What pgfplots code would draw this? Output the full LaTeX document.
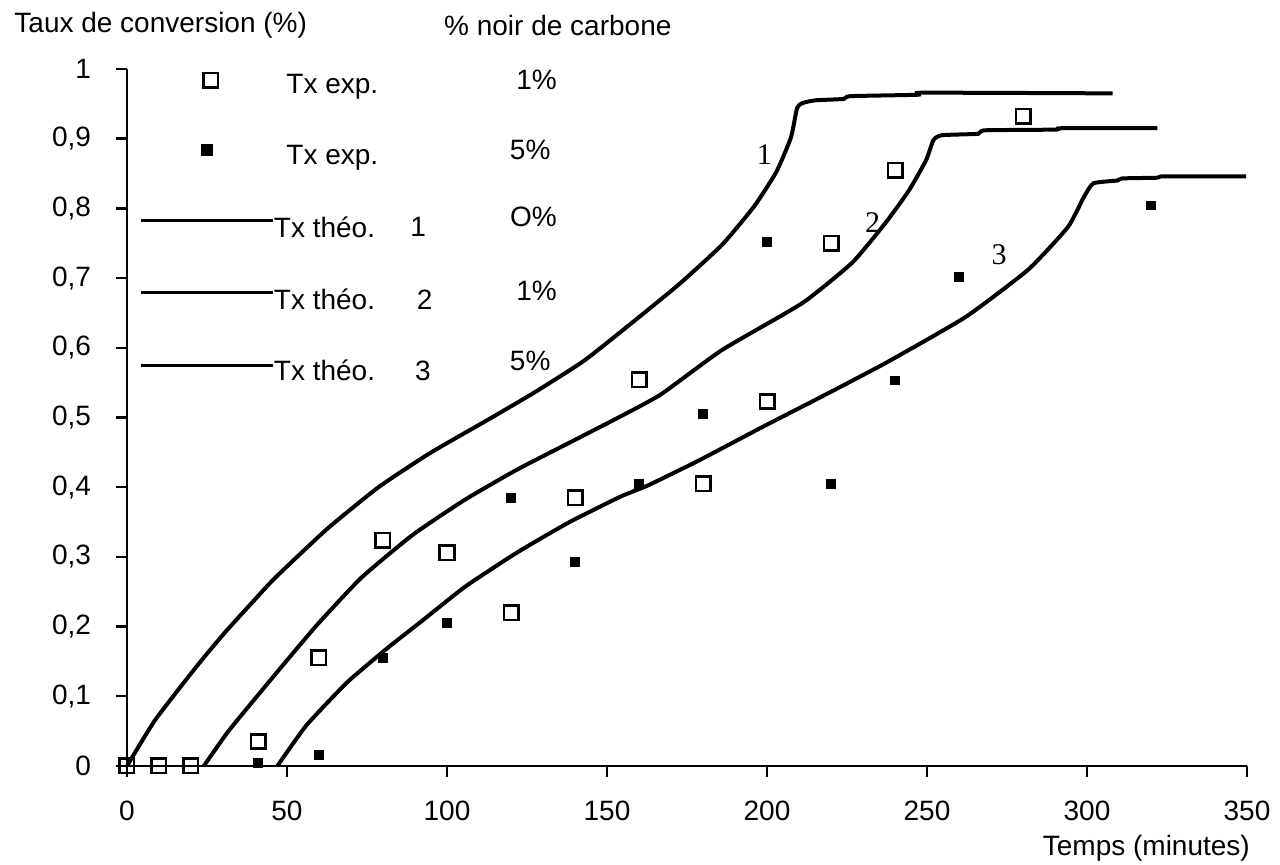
\documentclass[border=0pt]{standalone}
\usepackage{fontspec}
\setmainfont{Liberation Sans}
\newfontfamily\timesf{Liberation Serif}
\usepackage{pgfplots}
\pgfplotsset{compat=1.18}
\begin{document}
\begin{tikzpicture}[font=\fontsize{14}{16}\selectfont]
\path[use as bounding box] (-63.5pt,-49.5pt) rectangle (576.5pt,383pt);
\begin{axis}[
  scale only axis, width=560pt, height=348.5pt,
  xmin=0, xmax=350, ymin=0, ymax=1,
  axis lines*=left,
  axis line style={line width=1.4pt},
  tick align=outside,
  major tick length=5.5pt,
  tick style={line width=1.2pt, black},
  xtick={0,50,...,350},
  ytick={0,0.1,0.2,0.3,0.4,0.5,0.6,0.7,0.8,0.9,1},
  yticklabels={0,{0,1},{0,2},{0,3},{0,4},{0,5},{0,6},{0,7},{0,8},{0,9},1},
  xticklabels={0,50,100,150,200,250,300,350},
  yticklabel style={xshift=-9pt},
  xticklabel style={yshift=-8.5pt},
  clip=false,
]
% theoretical curves
\addplot[black, line width=2pt, smooth, tension=0.3] coordinates {
(0,0) (8.8,0.066) (21.6,0.142) (30.5,0.191) (39.4,0.236) (46.3,0.270) (62.5,0.340) (78.6,0.400) (94.7,0.449) (111,0.492) (127,0.535) (143,0.582) (160,0.644) (173,0.693) (186,0.748) (196,0.803) (203,0.853) (207.5,0.902) (209.4,0.944) (211,0.951) (215,0.955) (224,0.957) (226,0.961) (247,0.963) (249,0.966) (308,0.965)};
\addplot[black, line width=2pt, smooth, tension=0.3] coordinates {
(24,0) (31.7,0.050) (41.9,0.107) (49.7,0.150) (59.5,0.203) (73.2,0.270) (89.4,0.332) (105.6,0.382) (121.8,0.425) (137.9,0.463) (154,0.501) (166.8,0.533) (186,0.597) (211,0.664) (226.6,0.722) (237,0.779) (244.4,0.826) (249.7,0.869) (252,0.898) (254.7,0.905) (266,0.907) (268,0.912) (290,0.913) (292,0.915) (322,0.915)};
\addplot[black, line width=2pt, smooth, tension=0.3] coordinates {
(47,0) (56,0.058) (68.8,0.120) (81.6,0.170) (91.6,0.206) (105.6,0.257) (121.8,0.306) (137.9,0.349) (154,0.386) (163,0.403) (179,0.439) (198.4,0.486) (215,0.525) (237,0.578) (262,0.644) (281.6,0.712) (294,0.773) (299,0.816) (302,0.836) (309.5,0.840) (311,0.843) (322,0.844) (324,0.846) (349.7,0.846)};
% experimental 1%
\addplot[only marks, mark=square, mark size=3.6pt, mark options={line width=1.3pt, black}] coordinates {
(0,0) (10,0) (20,0) (41,0.035) (60,0.155) (80,0.324) (100,0.306) (120,0.22) (140,0.385) (160,0.554) (180,0.405) (200,0.523) (220,0.75) (240,0.855) (280,0.932)};
% experimental 5%
\addplot[only marks, mark=square*, mark size=2.2pt, mark options={black, line width=0.5pt}] coordinates {
(41,0.004) (60,0.016) (80,0.155) (100,0.205) (120,0.385) (140,0.293) (160,0.405) (180,0.505) (200,0.752) (220,0.405) (240,0.553) (260,0.702) (320,0.804)};
% legend marks and lines
\addplot[only marks, mark=square, mark size=3.6pt, mark options={line width=1.3pt, black}] coordinates {(26.2,0.984)};
\addplot[only marks, mark=square*, mark size=2.8pt, mark options={black}] coordinates {(25,0.884)};
\addplot[black, line width=1.5pt] coordinates {(4.4,0.782) (45.5,0.782)};
\addplot[black, line width=1.5pt] coordinates {(4.4,0.679) (45.5,0.679)};
\addplot[black, line width=1.5pt] coordinates {(4.4,0.574) (45.5,0.574)};
% legend texts
\node[anchor=west, inner sep=0pt] at (axis cs:49.7,0.975) {Tx exp.};
\node[anchor=west, inner sep=0pt] at (axis cs:49.7,0.872) {Tx exp.};
\node[anchor=west, inner sep=0pt] at (axis cs:45.8,0.773) {Tx théo.};
\node[anchor=west, inner sep=0pt] at (axis cs:45.8,0.669) {Tx théo.};
\node[anchor=west, inner sep=0pt] at (axis cs:45.8,0.567) {Tx théo.};
\node at (axis cs:91,0.773) {1};
\node at (axis cs:93,0.669) {2};
\node at (axis cs:92.5,0.567) {3};
\node at (axis cs:128,0.984) {1\%};
\node at (axis cs:126,0.884) {5\%};
\node at (axis cs:127,0.788) {O\%};
\node at (axis cs:128,0.681) {1\%};
\node at (axis cs:126,0.581) {5\%};
% headers
\node[anchor=west, inner sep=0pt] at (axis cs:-35.3,1.063) {Taux de conversion (\%)};
\node[anchor=west, inner sep=0pt] at (axis cs:99,1.063) {\% noir de carbone};
\node[anchor=east, inner sep=0pt] at (axis cs:351,-0.1177) {Temps (minutes)};
% curve labels
\node[font=\timesf\fontsize{15}{17}\selectfont] at (axis cs:199.2,0.877) {1};
\node[font=\timesf\fontsize{15}{17}\selectfont] at (axis cs:233,0.779) {2};
\node[font=\timesf\fontsize{15}{17}\selectfont] at (axis cs:272.5,0.733) {3};
\end{axis}
\end{tikzpicture}
\end{document}
